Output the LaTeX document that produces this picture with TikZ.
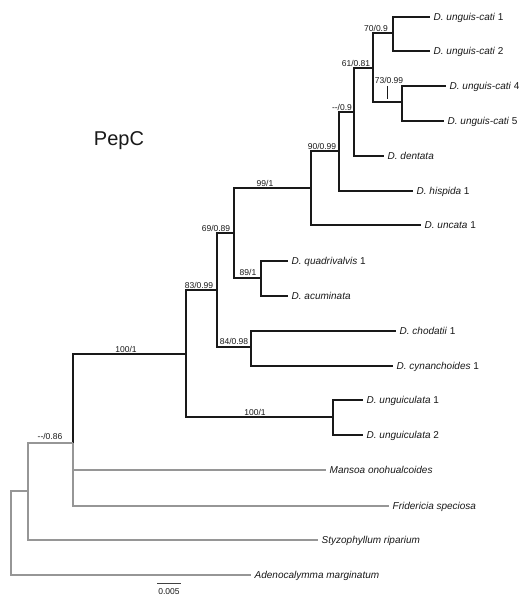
\documentclass[tikz,border=0pt]{standalone}
\usepackage{fontspec}
\setmainfont{Liberation Sans}
\definecolor{greyline}{RGB}{150,150,150}
\definecolor{inkline}{RGB}{25,25,25}
\begin{document}
\begin{tikzpicture}[x=1pt,y=-1pt,
  br/.style={line width=1.5pt, inkline},
  og/.style={line width=1.3pt, greyline},
  leaf/.style={anchor=west, inner xsep=3.5pt, inner ysep=0pt, text height=7.2pt, text depth=0pt, font=\fontsize{10}{12}\selectfont, text=inkline},
  sup/.style={inner sep=0pt, font=\fontsize{8.5}{10}\selectfont, text height=6.1pt, text depth=0pt, text=inkline},
  thin/.style={line width=0.6pt, inkline}]
\useasboundingbox[fill=white] (0,0) rectangle (528,598);

% internal nodes
\coordinate (nUC12) at (393,33);
\coordinate (nUC45) at (402,102);
\coordinate (nUC)   at (373,68);
\coordinate (nDent) at (354,112);
\coordinate (nHisp) at (339,151);
\coordinate (nUnc)  at (311,188);
\coordinate (nQA)   at (261,278);
\coordinate (n69)   at (234,233);
\coordinate (n84)   at (251,347);
\coordinate (n83)   at (217,290);
\coordinate (nUng)  at (333,417);
\coordinate (n100)  at (186,354);
\coordinate (n086)  at (73,443);
\coordinate (nSty)  at (28,491);
\coordinate (root)  at (11,532);

% leaves
\node[leaf] (uc1)  at (430,17)  {\textit{D. unguis-cati} 1};
\node[leaf] (uc2)  at (430,51)  {\textit{D. unguis-cati} 2};
\node[leaf] (uc4)  at (446,86)  {\textit{D. unguis-cati} 4};
\node[leaf] (uc5)  at (444,121) {\textit{D. unguis-cati} 5};
\node[leaf] (dent) at (384,156) {\textit{D. dentata}};
\node[leaf] (hisp) at (413,191) {\textit{D. hispida} 1};
\node[leaf] (unc)  at (421,225) {\textit{D. uncata} 1};
\node[leaf] (quad) at (288,261) {\textit{D. quadrivalvis} 1};
\node[leaf] (acum) at (288,296) {\textit{D. acuminata}};
\node[leaf] (chod) at (396,331) {\textit{D. chodatii} 1};
\node[leaf] (cyn)  at (393,366) {\textit{D. cynanchoides} 1};
\node[leaf] (ung1) at (363,400) {\textit{D. unguiculata} 1};
\node[leaf] (ung2) at (363,435) {\textit{D. unguiculata} 2};
\node[leaf] (mans) at (326,470) {\textit{Mansoa onohualcoides}};
\node[leaf] (frid) at (389,506) {\textit{Fridericia speciosa}};
\node[leaf] (sty)  at (318,540) {\textit{Styzophyllum riparium}};
\node[leaf] (aden) at (251,575) {\textit{Adenocalymma marginatum}};

% black branches
\draw[br] (nUC12) |- (uc1.west);
\draw[br] (nUC12) |- (uc2.west);
\draw[br] (nUC45) |- (uc4.west);
\draw[br] (nUC45) |- (uc5.west);
\draw[br] (nUC) |- (nUC12);
\draw[br] (nUC) |- (nUC45);
\draw[br] (nDent) |- (nUC);
\draw[br] (nDent) |- (dent.west);
\draw[br] (nHisp) |- (nDent);
\draw[br] (nHisp) |- (hisp.west);
\draw[br] (nUnc) |- (nHisp);
\draw[br] (nUnc) |- (unc.west);
\draw[br] (nQA) |- (quad.west);
\draw[br] (nQA) |- (acum.west);
\draw[br] (n69) |- (nUnc);
\draw[br] (n69) |- (nQA);
\draw[br] (n84) |- (chod.west);
\draw[br] (n84) |- (cyn.west);
\draw[br] (n83) |- (n69);
\draw[br] (n83) |- (n84);
\draw[br] (nUng) |- (ung1.west);
\draw[br] (nUng) |- (ung2.west);
\draw[br] (n100) |- (n83);
\draw[br] (n100) |- (nUng);
\draw[br] (n086) |- (n100);

% grey outgroup branches
\draw[og] (n086) |- (mans.west);
\draw[og] (n086) |- (frid.west);
\draw[og] (nSty) |- (n086);
\draw[og] (nSty) |- (sty.west);
\draw[og] (root) |- (nSty);
\draw[og] (root) |- (aden.west);

% support values
\node[sup] (l70)  at (376,28)  {70/0.9};
\node[sup] (l61)  at (356,63)  {61/0.81};
\node[sup] (l73)  at (389,80.5) {73/0.99};
\node[sup] (l09)  at (342,107.5) {{-}{-}/0.9};
\node[sup] (l90)  at (322,146) {90/0.99};
\node[sup] (l99)  at (265,183) {99/1};
\node[sup] (l69)  at (216,228) {69/0.89};
\node[sup] (l89)  at (248,272.5) {89/1};
\node[sup] (l83)  at (199,285) {83/0.99};
\node[sup] (l84)  at (234,341.5) {84/0.98};
\node[sup] (l100a) at (126,349) {100/1};
\node[sup] (l100b) at (255,412.5) {100/1};
\node[sup] (l086) at (50,436.5) {{-}{-}/0.86};

\coordinate (t73a) at (387,86);
\coordinate (t73b) at (387,99);
\draw[thin] (t73a) -- (t73b);

% title
\node[anchor=base, inner sep=0pt, font=\fontsize{20}{24}\selectfont, text=inkline] (title) at (119,145) {PepC};

% scale bar
\coordinate (sbA) at (157,583);
\coordinate (sbB) at (181,583);
\draw[line width=0.8pt, black!75] (sbA) -- (sbB);
\node[sup] (sbl) at (169,591) {0.005};
\end{tikzpicture}
\end{document}
